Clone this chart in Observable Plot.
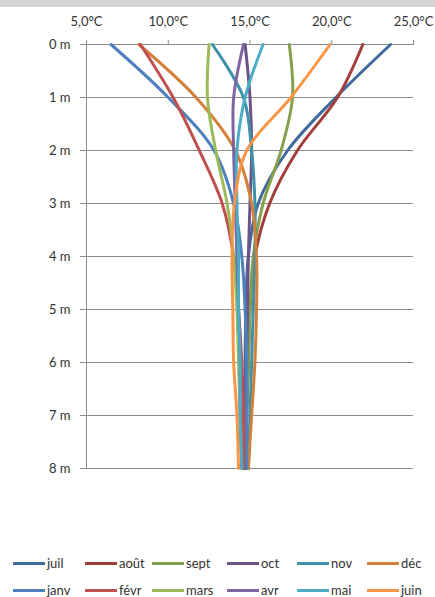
<!DOCTYPE html>
<html>
<head>
<meta charset="utf-8">
<script src="https://cdn.jsdelivr.net/npm/d3@7"></script>
<script src="https://cdn.jsdelivr.net/npm/@observablehq/plot@0.6"></script>
<style>
  html, body { margin: 0; padding: 0; background: #fff; }
  body { width: 435px; height: 597px; position: relative; overflow: hidden; font-family: Lato, "Open Sans", sans-serif; }
  #band { position: absolute; left: 0; top: 0; width: 435px; height: 7px; background: #d6d6d6; }
  #chart { position: absolute; left: 0; top: 7px; }
  #legend { position: absolute; left: 0; top: 555px; width: 435px; }
  .item { position: absolute; height: 16px; display: flex; align-items: center; font-size: 13px; color: #333; }
  .sw { display: inline-block; width: 32px; height: 3px; margin-right: 2px; }
</style>
</head>
<body>
<div id="band"></div>
<div id="chart"></div>
<div id="legend"></div>
<script>
// Depths (m)
const depths = [0, 1, 2, 3, 4, 5, 6, 7, 8];
// Month names (legend order)
const months = ["juil", "août", "sept", "oct", "nov", "déc", "janv", "févr", "mars", "avr", "mai", "juin"];
const colors = ["#40699c", "#a23f3c", "#84a04a", "#6a5488", "#3e91a8", "#d2803a",
                "#4f81bd", "#c0504d", "#9bbb59", "#8064a2", "#4bacc6", "#f79646"];
// Temperatures (°C) at each depth, per month
const juil = [23.6, 20.25, 17.3, 15.5, 14.9, 14.75, 14.7, 14.7, 14.7];
const aout = [21.9, 20.35, 17.9, 16.2, 15.3, 15.0, 14.9, 14.8, 14.75];
const sept = [17.4, 17.6, 16.9, 15.8, 15.2, 15.0, 14.9, 14.8, 14.8];
const oct  = [14.7, 15.0, 15.1, 15.0, 14.9, 14.85, 14.8, 14.75, 14.7];
const nov  = [12.7, 14.6, 15.1, 15.3, 15.3, 15.2, 15.1, 15.0, 14.9];
const dec  = [8.2, 11.7, 14.1, 15.1, 15.4, 15.4, 15.3, 15.1, 14.9];
const janv = [6.5, 10.0, 12.8, 14.0, 14.5, 14.7, 14.8, 14.8, 14.8];
const fevr = [8.3, 10.3, 11.9, 13.3, 14.0, 14.3, 14.5, 14.6, 14.6];
const mars = [12.5, 12.4, 12.9, 13.6, 14.0, 14.2, 14.3, 14.4, 14.5];
const avr  = [14.6, 14.0, 14.0, 14.1, 14.2, 14.3, 14.4, 14.4, 14.5];
const mai  = [15.8, 14.7, 14.2, 14.2, 14.3, 14.3, 14.4, 14.4, 14.5];
const juin = [19.9, 17.5, 14.8, 14.05, 13.9, 13.95, 14.0, 14.2, 14.3];
const series = [juil, aout, sept, oct, nov, dec, janv, fevr, mars, avr, mai, juin];
const xTicks = [5, 10, 15, 20, 25];

const rows = [];
series.forEach((vals, i) => vals.forEach((t, j) => rows.push({month: months[i], temp: t, depth: depths[j]})));

const fmtX = d => d.toFixed(1).replace(".", ",") + "°C";

const chart = Plot.plot({
  width: 435,
  height: 480,
  marginTop: 37,
  marginBottom: 19,
  marginLeft: 86,
  marginRight: 22,
  style: {fontFamily: "Lato, 'Open Sans', sans-serif", fontSize: "13px", color: "#333", background: "#fff"},
  x: {domain: [5, 25]},
  y: {domain: [0, 8], reverse: true},
  color: {domain: months, range: colors},
  marks: [
    Plot.ruleY(depths, {x1: 5, x2: 25, stroke: "#8c8c8c", strokeWidth: 1}),
    Plot.ruleX([5], {y1: 0, y2: 8, stroke: "#8c8c8c", strokeWidth: 1}),
    Plot.axisX({anchor: "top", ticks: xTicks, tickFormat: fmtX, tickSize: 5, tickPadding: 14, stroke: "#8c8c8c", label: null}),
    Plot.axisY({anchor: "left", ticks: depths, tickFormat: d => d + " m", tickSize: 6, tickPadding: 10, stroke: "#8c8c8c", label: null}),
    Plot.line(rows, {x: "temp", y: "depth", z: "month", stroke: "month", strokeWidth: 3, curve: "catmull-rom"})
  ]
});
document.getElementById("chart").appendChild(chart);

// Legend
const legX = [13, 85, 152, 227, 297, 367];
const leg = document.getElementById("legend");
months.forEach((m, i) => {
  const row = Math.floor(i / 6), col = i % 6;
  const d = document.createElement("div");
  d.className = "item";
  d.style.left = legX[col] + "px";
  d.style.top = (row * 27) + "px";
  const sw = document.createElement("span");
  sw.className = "sw";
  sw.style.background = colors[i];
  d.appendChild(sw);
  d.appendChild(document.createTextNode(m));
  leg.appendChild(d);
});
</script>
</body>
</html>
